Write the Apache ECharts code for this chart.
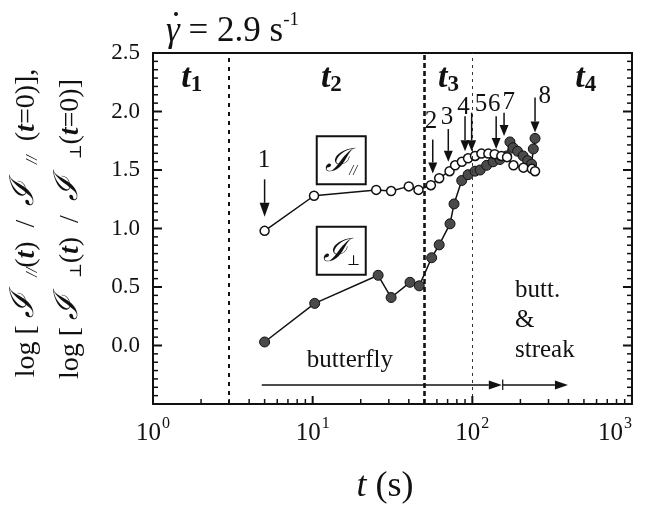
<!DOCTYPE html>
<html>
<head>
<meta charset="utf-8">
<script src="https://cdn.jsdelivr.net/npm/echarts@6/dist/echarts.min.js"></script>
<style>
  html, body { margin: 0; padding: 0; background: #fff; }
  #chart { width: 646px; height: 508px; }
</style>
</head>
<body>
<div id="chart"></div>
<script>
// Parallel component (open circles): time (s) and log ratio
const timePar = [5, 10.2, 25, 31, 40, 46, 55, 62, 72, 78, 86, 94, 104, 114, 126, 138, 152, 165, 181, 209, 236, 247];
const valPar  = [0.98, 1.28, 1.33, 1.32, 1.36, 1.33, 1.37, 1.43, 1.49, 1.54, 1.57, 1.60, 1.62, 1.64, 1.64, 1.635, 1.62, 1.61, 1.54, 1.52, 1.51, 1.49];

// Perpendicular component (filled circles)
const timePerp = [5, 10.3, 25.7, 31, 40.7, 46.5, 55.6, 62, 72.5, 76.8, 85.8, 94, 104, 112, 123, 135, 149, 164, 172, 180, 192, 208, 222, 235, 241, 247];
const valPerp  = [0.03, 0.36, 0.60, 0.41, 0.54, 0.51, 0.75, 0.86, 1.04, 1.21, 1.41, 1.46, 1.49, 1.50, 1.54, 1.57, 1.59, 1.62, 1.74, 1.69, 1.66, 1.62, 1.58, 1.55, 1.68, 1.77];

// Regime boundaries on the time axis
const boundaries = [3, 50, 100];

// Minor ticks of the logarithmic time axis
const minorTimes = [2, 3, 4, 5, 6, 7, 8, 9, 20, 30, 40, 50, 60, 70, 80, 90, 200, 300, 400, 500, 600, 700, 800, 900];

// Vertical axis range and ticks: majors every 0.5, seven minor steps between them
const yMin = -0.5, yMax = 2.5, yMajorStep = 0.5, yMinorSplit = 7;

// Numbered arrows: label, time, arrow start, arrow tip, label position
const arrowNames  = ['1', '2', '3', '4', '5', '6', '7', '8'];
const arrowTimes  = [5, 56.5, 70.7, 90, 99, 141, 158, 247];
const arrowStart  = [1.42, 1.76, 1.85, 1.96, 1.99, 1.96, 1.99, 2.12];
const arrowTip    = [1.10, 1.47, 1.57, 1.66, 1.66, 1.68, 1.79, 1.82];
const labelTimes  = [4.95, 55.1, 69.4, 88, 113.5, 137, 169, 284];
const labelValues = [1.58, 1.915, 1.95, 2.035, 2.06, 2.06, 2.077, 2.128];

// Regime names t1..t4
const regimeNames = ['1', '2', '3', '4'];
const regimeTimes = [1.75, 13.1, 71, 513];
const regimeValue = 2.28;

const SERIF = '"Liberation Serif", "DejaVu Serif", serif';
const INK = '#111';

const chart = echarts.init(document.getElementById('chart'), null, { renderer: 'canvas' });

const zip = (a, b) => a.map((v, i) => [v, b[i]]);

const option = {
  animation: false,
  backgroundColor: '#fff',
  grid: { left: 153, right: 14, top: 53, bottom: 104, outerBoundsMode: 'none', containLabel: false },
  xAxis: [
    {
      type: 'log', logBase: 10, min: 1, max: 1000, position: 'bottom',
      axisLine: { show: true, onZero: false, lineStyle: { color: INK, width: 2 } },
      axisTick: { show: false },
      splitLine: { show: false },
      axisLabel: {
        margin: 12,
        alignMaxLabel: 'right',
        formatter: v => '{b|10}{p|' + Math.round(Math.log10(v)) + '}',
        rich: {
          b: { fontFamily: SERIF, fontSize: 25, color: INK, lineHeight: 30, verticalAlign: 'bottom' },
          p: { fontFamily: SERIF, fontSize: 16, color: INK, lineHeight: 30, verticalAlign: 'top', padding: [0, 0, 0, 1] }
        }
      }
    },
    {
      type: 'log', logBase: 10, min: 1, max: 1000, position: 'top',
      axisLine: { show: true, onZero: false, lineStyle: { color: INK, width: 2 } },
      axisTick: { show: false }, axisLabel: { show: false }, splitLine: { show: false }
    }
  ],
  yAxis: [
    {
      type: 'value', min: yMin, max: yMax, interval: yMajorStep, position: 'left',
      axisLine: { show: true, onZero: false, lineStyle: { color: INK, width: 2 } },
      axisTick: { show: false }, minorTick: { show: false },
      splitLine: { show: false },
      axisLabel: {
        margin: 13, fontFamily: SERIF, fontSize: 23, color: INK, padding: [10, 0, 0, 0],
        formatter: v => (v < 0 ? '' : v.toFixed(1))
      }
    },
    {
      type: 'value', min: yMin, max: yMax, interval: yMajorStep, position: 'right',
      axisLine: { show: true, onZero: false, lineStyle: { color: INK, width: 2 } },
      axisTick: { show: false }, minorTick: { show: false },
      splitLine: { show: false }, axisLabel: { show: false }
    }
  ],
  series: [
    {
      name: 'perpendicular', type: 'line', z: 3,
      data: zip(timePerp, valPerp),
      symbol: 'circle', symbolSize: 10, showAllSymbol: true,
      itemStyle: { color: '#4a4a4a', borderColor: '#111', borderWidth: 1 },
      lineStyle: { color: INK, width: 1.5 },
      markLine: {
        silent: true, symbol: 'none', label: { show: false },
        data: [
          { xAxis: boundaries[0], lineStyle: { color: INK, type: [4, 5], width: 2 } },
          { xAxis: boundaries[1], lineStyle: { color: INK, type: [5, 3], width: 2.6 } },
          { xAxis: boundaries[2], lineStyle: { color: '#333', type: [3, 4], width: 1 } }
        ]
      }
    },
    {
      name: 'parallel', type: 'line', z: 4,
      data: zip(timePar, valPar),
      symbol: 'circle', symbolSize: 9, showAllSymbol: true,
      itemStyle: { color: '#fff', borderColor: INK, borderWidth: 1.5 },
      lineStyle: { color: INK, width: 1.5 }
    }
  ]
};

chart.setOption(option);

// Annotations and tick marks placed through the chart's own coordinate system
const px = (t, v) => chart.convertToPixel({ xAxisIndex: 0, yAxisIndex: 0 }, [t, v]);

const graphics = [];
const seg = (x1, y1, x2, y2, w) => ({
  type: 'line', silent: true, z: 8,
  shape: { x1, y1, x2, y2 }, style: { stroke: INK, lineWidth: w }
});

// inward ticks on the time axis (decades long, 2..9 short)
[1, 10, 100, 1000].forEach(t => { const p = px(t, yMin); graphics.push(seg(p[0], p[1], p[0], p[1] - 8, 2)); });
minorTimes.forEach(t => { const p = px(t, yMin); graphics.push(seg(p[0], p[1], p[0], p[1] - 5, 1.5)); });

// inward ticks on both vertical axes
const nSteps = Math.round((yMax - yMin) / yMajorStep) * yMinorSplit;
for (let k = 0; k <= nSteps; k++) {
  const v = yMin + k * yMajorStep / yMinorSplit;
  const major = k % yMinorSplit === 0;
  const len = major ? 9 : 5, w = major ? 2 : 1.5;
  const pl = px(1, v), pr = px(1000, v);
  graphics.push(seg(pl[0], pl[1], pl[0] + len, pl[1], w));
  graphics.push(seg(pr[0], pr[1], pr[0] - len, pr[1], w));
}

function arrowShape(p0, p1, headLen, headW, width) {
  const dx = p1[0] - p0[0], dy = p1[1] - p0[1];
  const len = Math.hypot(dx, dy);
  const ux = dx / len, uy = dy / len;
  const bx = p1[0] - ux * headLen, by = p1[1] - uy * headLen;
  const nx = -uy, ny = ux;
  return [
    { type: 'line', silent: true, z: 10,
      shape: { x1: p0[0], y1: p0[1], x2: bx, y2: by },
      style: { stroke: INK, lineWidth: width } },
    { type: 'polygon', silent: true, z: 10,
      shape: { points: [[p1[0], p1[1]], [bx + nx * headW / 2, by + ny * headW / 2], [bx - nx * headW / 2, by - ny * headW / 2]] },
      style: { fill: INK } }
  ];
}

// numbered arrows
arrowNames.forEach((name, i) => {
  const first = i === 0;
  graphics.push(...arrowShape(px(arrowTimes[i], arrowStart[i]), px(arrowTimes[i], arrowTip[i]),
    first ? 14 : 11, first ? 10 : 9, 1.5));
  const lp = px(labelTimes[i], labelValues[i]);
  graphics.push({
    type: 'text', silent: true, z: 11, x: lp[0], y: lp[1],
    style: { text: name, fontFamily: SERIF, fontSize: 25, fill: INK, align: 'center', verticalAlign: 'middle' }
  });
});

// regime names
regimeNames.forEach((n, i) => {
  const p = px(regimeTimes[i], regimeValue);
  graphics.push({
    type: 'text', silent: true, z: 11, x: p[0], y: p[1],
    style: {
      text: '{t|t}{s|' + n + '}', align: 'center', verticalAlign: 'middle',
      rich: {
        t: { fontFamily: SERIF, fontSize: 34, fontStyle: 'italic', fontWeight: 'bold', fill: INK, lineHeight: 36, verticalAlign: 'top' },
        s: { fontFamily: SERIF, fontSize: 23, fontWeight: 'bold', fill: INK, lineHeight: 22, verticalAlign: 'bottom' }
      }
    }
  });
});

// boxed component symbols
[[15.1, 1.584, '//'], [15.1, 0.81, '⊥']].forEach(([t, v, sub]) => {
  const c = px(t, v);
  graphics.push({
    type: 'rect', silent: true, z: 9,
    shape: { x: c[0] - 24.5, y: c[1] - 24, width: 49, height: 48 },
    style: { fill: '#fff', stroke: INK, lineWidth: 2 }
  });
  graphics.push({
    type: 'text', silent: true, z: 11, x: c[0], y: c[1],
    style: {
      text: '{f|ℐ}{s|' + sub + '}', align: 'center', verticalAlign: 'middle',
      rich: {
        f: { fontFamily: SERIF, fontSize: 32, fontStyle: 'italic', fill: INK, lineHeight: 36, verticalAlign: 'bottom' },
        s: { fontFamily: SERIF, fontSize: 14, fontStyle: 'italic', fill: INK, lineHeight: 30, verticalAlign: 'bottom' }
      }
    }
  });
});

// butterfly / streak time-range arrows
graphics.push(...arrowShape(px(4.8, -0.338), px(153, -0.338), 13, 9, 1.5));
graphics.push(...arrowShape(px(155, -0.338), px(397, -0.338), 13, 9, 1.5));
{
  const a = px(155, -0.29), b = px(155, -0.38);
  graphics.push(seg(a[0], a[1], b[0], b[1], 1.2));
}
{
  const p = px(17.1, -0.125);
  graphics.push({ type: 'text', silent: true, z: 11, x: p[0], y: p[1],
    style: { text: 'butterfly', fontFamily: SERIF, fontSize: 25, fill: INK, align: 'center', verticalAlign: 'middle' } });
  const q = px(185, 0.21);
  graphics.push({ type: 'text', silent: true, z: 11, x: q[0], y: q[1],
    style: { text: 'butt.\n&\nstreak', fontFamily: SERIF, fontSize: 25, lineHeight: 30, fill: INK, align: 'left', verticalAlign: 'middle' } });
}

// shear-rate title: gamma with an overdot
graphics.push({
  type: 'text', silent: true, z: 11, x: 166, y: 30,
  style: {
    text: '{g|γ}{n| = 2.9 s}{p|-1}', align: 'left', verticalAlign: 'middle',
    rich: {
      g: { fontFamily: SERIF, fontSize: 35, fontStyle: 'italic', fill: INK, lineHeight: 38, verticalAlign: 'bottom' },
      n: { fontFamily: SERIF, fontSize: 35, fill: INK, lineHeight: 38, verticalAlign: 'bottom' },
      p: { fontFamily: SERIF, fontSize: 19, fill: INK, lineHeight: 38, verticalAlign: 'top' }
    }
  }
});
graphics.push({ type: 'circle', silent: true, z: 11, shape: { cx: 176, cy: 14, r: 2 }, style: { fill: INK } });

// vertical axis title (two lines)
const yRich = {
  n: { fontFamily: SERIF, fontSize: 28, fill: INK, lineHeight: 34, verticalAlign: 'bottom' },
  f: { fontFamily: SERIF, fontSize: 33, fontStyle: 'italic', fill: INK, lineHeight: 34, verticalAlign: 'bottom' },
  i: { fontFamily: SERIF, fontSize: 28, fontStyle: 'italic', fontWeight: 'bold', fill: INK, lineHeight: 34, verticalAlign: 'bottom' },
  s: { fontFamily: SERIF, fontSize: 16, fontStyle: 'italic', fill: INK, lineHeight: 30, verticalAlign: 'bottom' }
};
graphics.push({
  type: 'text', silent: true, z: 11, x: 24, y: 223, rotation: Math.PI / 2,
  style: { text: '{n|log [ }{f|ℐ  }{s|//}{n|(}{i|t}{n|)  /  }{f|ℐ  }{s|//}{n|  (}{i|t}{n|=0)],}', align: 'center', verticalAlign: 'middle', rich: yRich }
});
graphics.push({
  type: 'text', silent: true, z: 11, x: 68, y: 229, rotation: Math.PI / 2,
  style: { text: '{n|log [ }{f|ℐ  }{s|⊥}{n|(}{i|t}{n|)  /  }{f|ℐ  }{s|⊥}{n|(}{i|t}{n|=0)]}', align: 'center', verticalAlign: 'middle', rich: yRich }
});

// time axis title
graphics.push({
  type: 'text', silent: true, z: 11, x: 385, y: 487,
  style: {
    text: '{i|t}{n| (s)}', align: 'center', verticalAlign: 'middle',
    rich: {
      i: { fontFamily: SERIF, fontSize: 36, fontStyle: 'italic', fill: INK },
      n: { fontFamily: SERIF, fontSize: 36, fill: INK }
    }
  }
});

chart.setOption({ graphic: { elements: graphics } });
</script>
</body>
</html>
